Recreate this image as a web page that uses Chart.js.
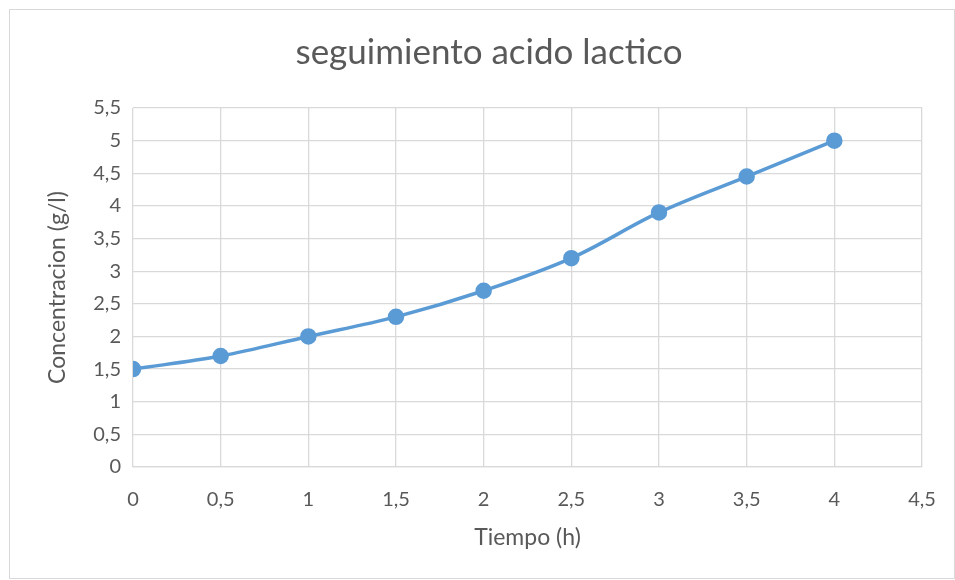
<!DOCTYPE html>
<html lang="es">
<head>
    <meta charset="UTF-8">
    <title>seguimiento acido lactico</title>
    <script src="https://cdn.jsdelivr.net/npm/chart.js@4.4.0/dist/chart.umd.min.js"></script>
    <style>
        body { margin: 0; background: #fff; }
        #box {
            position: absolute; left: 9px; top: 9px;
            width: 944px; height: 568px;
            border: 1px solid #d9d9d9;
        }
    </style>
</head>
<body>
    <div id="box"><canvas id="lacticChart" width="944" height="568"></canvas></div>

    <script>
        const tiempo = [0, 0.5, 1, 1.5, 2, 2.5, 3, 3.5, 4];
        const concentracion = [1.5, 1.7, 2.0, 2.3, 2.7, 3.2, 3.9, 4.45, 5.0];

        const font = "Lato, 'Open Sans', sans-serif";
        const gray = '#595959';
        const blue = '#5b9bd5';

        const puntos = tiempo.map((t, i) => ({ x: t, y: concentracion[i] }));
        const coma = v => String(v).replace('.', ',');

        new Chart(document.getElementById('lacticChart'), {
            type: 'line',
            data: {
                datasets: [{
                    label: 'Concentracion',
                    data: puntos,
                    borderColor: blue,
                    backgroundColor: blue,
                    borderWidth: 3.5,
                    pointRadius: 6.5,
                    pointHoverRadius: 6.5,
                    tension: 0.35,
                    fill: false
                }]
            },
            options: {
                responsive: false,
                animation: false,
                layout: { padding: { left: 30, right: 16, top: 0, bottom: 27 } },
                plugins: {
                    legend: { display: false },
                    tooltip: { enabled: false },
                    title: {
                        display: true,
                        text: 'seguimiento acido lactico',
                        color: gray,
                        font: { family: font, size: 35, weight: 'normal' },
                        padding: { top: 22, bottom: 34 }
                    }
                },
                scales: {
                    x: {
                        type: 'linear',
                        min: 0, max: 4.5,
                        ticks: { stepSize: 0.5, color: gray, font: { family: font, size: 20 }, padding: 21, callback: coma },
                        grid: { color: '#d9d9d9', lineWidth: 1.3, drawTicks: false },
                        border: { color: '#d9d9d9', width: 1.3 },
                        title: { display: true, text: 'Tiempo (h)', color: gray, font: { family: font, size: 23 }, padding: 0 },
                        afterFit: s => { s.height = 84; s.paddingRight = 32; }
                    },
                    y: {
                        min: 0, max: 5.5,
                        ticks: { stepSize: 0.5, color: gray, font: { family: font, size: 20 }, padding: 12, callback: coma },
                        grid: { color: '#d9d9d9', lineWidth: 1.3, drawTicks: false },
                        border: { display: false },
                        title: { display: true, text: 'Concentracion (g/l)', color: gray, font: { family: font, size: 23 }, padding: { top: 4, bottom: 0 } },
                        afterFit: s => { s.width = 93; }
                    }
                }
            }
        });
    </script>
</body>
</html>
